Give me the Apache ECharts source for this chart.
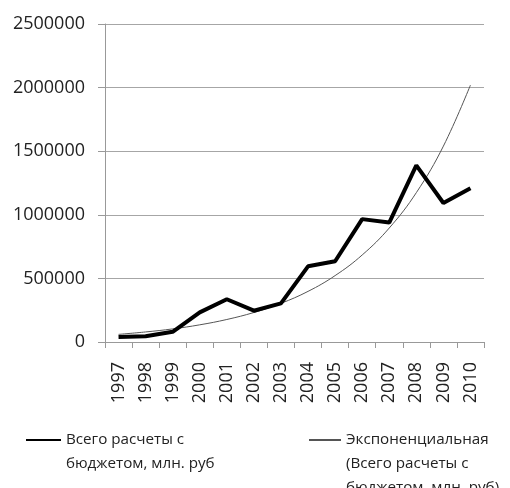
<!DOCTYPE html>
<html><head><meta charset="utf-8">
<script src="https://cdn.jsdelivr.net/npm/echarts@6/dist/echarts.min.js"></script>
<style>html,body{margin:0;padding:0;background:#fff}#c{width:510px;height:488px}</style>
</head><body><div id="c"></div>
<script>
const years = ['1997','1998','1999','2000','2001','2002','2003','2004','2005','2006','2007','2008','2009','2010'];
const totalBudget = [40000,45000,80000,233000,336000,246000,304000,595000,635000,966000,939000,1389000,1093000,1209000];
const expTrend = [60000,79000,103000,135000,177000,232000,304000,398000,522000,684000,896000,1174000,1540000,2020000];
const seriesNames = ['Всего расчеты с бюджетом, млн. руб', 'Экспоненциальная (Всего расчеты с бюджетом, млн. руб)'];
const legendLines = [
  ['Всего расчеты с', 'бюджетом, млн. руб'],
  ['Экспоненциальная', '(Всего расчеты с', 'бюджетом, млн. руб)']
];
const FONT = '"Open Sans", sans-serif';
const chart = echarts.init(document.getElementById('c'));
function legendFmt(idx){
  const lines = legendLines[idx];
  const pad = new Array(lines.length - 1).fill(' ');
  return () => pad.concat(lines).join('\n');
}
chart.setOption({
  animation: false,
  grid: {left: 105, right: 26, top: 24, bottom: 146},
  xAxis: {
    type: 'category', data: years, boundaryGap: true,
    axisLine: {lineStyle: {color: '#999', width: 1}},
    axisTick: {show: true, length: 6, lineStyle: {color: '#999'}},
    axisLabel: {rotate: 90, margin: 20, fontFamily: FONT, fontSize: 18, color: '#222'}
  },
  yAxis: {
    type: 'value', min: 0, max: 2500000, interval: 500000,
    axisLine: {show: true, lineStyle: {color: '#999'}},
    axisTick: {show: true, length: 7, lineStyle: {color: '#999'}},
    splitLine: {lineStyle: {color: '#a6a6a6', width: 1}},
    axisLabel: {margin: 20, fontFamily: FONT, fontSize: 18, color: '#222', formatter: v => String(v)}
  },
  legend: [
    {data: [seriesNames[0]], left: 25, top: 404, padding: 0, itemWidth: 35, itemHeight: 10, itemGap: 0,
     formatter: legendFmt(0), icon: 'inherit', itemStyle: {opacity: 0},
     textStyle: {fontFamily: FONT, fontSize: 15.2, color: '#222', lineHeight: 24}},
    {data: [seriesNames[1]], left: 308, top: 380, padding: 0, itemWidth: 32, itemHeight: 10,
     formatter: legendFmt(1), icon: 'inherit', itemStyle: {opacity: 0},
     textStyle: {fontFamily: FONT, fontSize: 15.2, color: '#222', lineHeight: 24}}
  ],
  series: [
    {name: seriesNames[0], type: 'line', data: totalBudget, symbol: 'none',
     lineStyle: {color: '#000', width: 4}, itemStyle: {color: '#000'}, z: 3},
    {name: seriesNames[1], type: 'line', data: expTrend, symbol: 'none', smooth: 0.4,
     lineStyle: {color: '#555', width: 1}, itemStyle: {color: '#555'}, z: 2}
  ]
});
</script></body></html>
